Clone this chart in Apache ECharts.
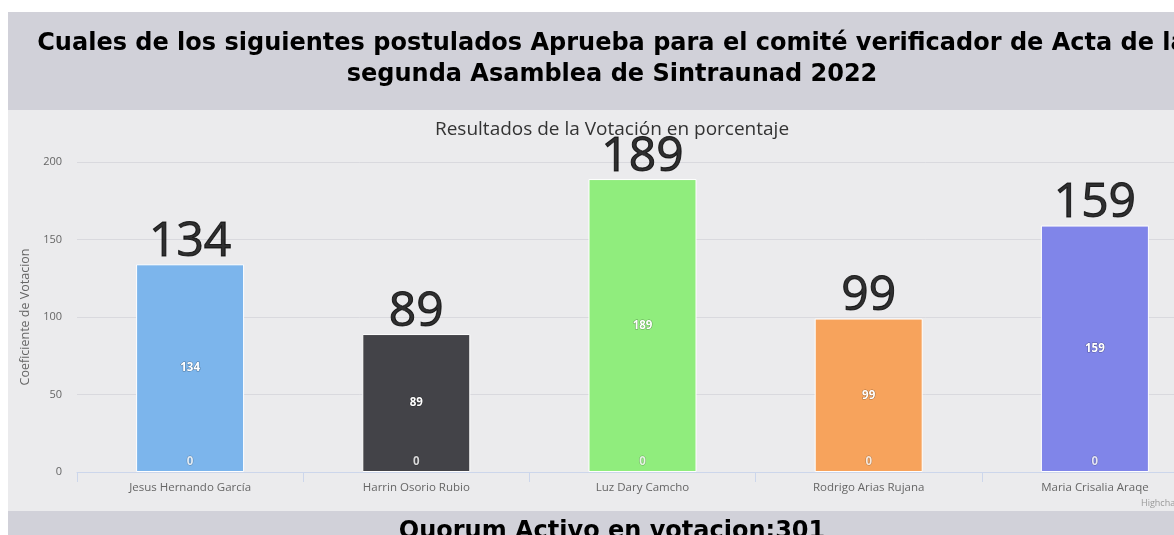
<!DOCTYPE html>
<html>
<head>
<meta charset="utf-8">
<script src="https://cdn.jsdelivr.net/npm/echarts@6/dist/echarts.min.js"></script>
<style>
    html, body { margin: 0; padding: 0; background: #fff; overflow: hidden; width: 1174px; height: 535px; }
    #chart { position: absolute; left: 8px; top: 12px; width: 1208px; height: 523px; }
</style>
</head>
<body>
<div id="chart"></div>
<script>
// Votacion comite verificador
var candidatos = ['Jesus Hernando García', 'Harrin Osorio Rubio', 'Luz Dary Camcho', 'Rodrigo Arias Rujana', 'Maria Crisalia Araqe'];
var votos = [134, 89, 189, 99, 159];
var ceros = [0, 0, 0, 0, 0];
var quorum = 301;

var colores = ['#7cb5ec', '#434348', '#90ed7d', '#f7a35c', '#8085e9'];

var chart = echarts.init(document.getElementById('chart'));
chart.setOption({
    animation: false,
    textStyle: { fontFamily: 'Open Sans' },
    graphic: [
        { type: 'rect', left: 0, top: 0, shape: { width: 1208, height: 98 }, style: { fill: '#d1d1d9' }, z: -10 },
        { type: 'rect', left: 0, top: 98, shape: { width: 1208, height: 401 }, style: { fill: '#ebebed' }, z: -10 },
        { type: 'rect', left: 0, top: 499, shape: { width: 1208, height: 24 }, style: { fill: '#d1d1d9' }, z: -10 },
        {
            type: 'text', left: 1133, top: 487, z: 10,
            style: { text: 'Highcharts.com', fill: '#999', font: '9px "Open Sans"' }
        }
    ],
    title: [{
        text: 'Cuales de los siguientes postulados Aprueba para el comité verificador de Acta de la\nsegunda Asamblea de Sintraunad 2022',
        left: 'center',
        top: 11,
        textStyle: { fontFamily: 'DejaVu Sans', fontWeight: 'bold', fontSize: 24, lineHeight: 31, color: '#000' }
    }, {
        text: 'Resultados de la Votación en porcentaje',
        left: 'center',
        top: 103,
        textStyle: { fontFamily: 'Open Sans', fontWeight: 'normal', fontSize: 19, color: '#333' }
    }, {
        text: 'Quorum Activo en votacion:' + quorum,
        left: 'center',
        top: 503,
        textStyle: { fontFamily: 'DejaVu Sans', fontWeight: 'bold', fontSize: 24, color: '#000' }
    }],
    grid: { left: 69, right: 8, top: 150, bottom: 63 },
    xAxis: {
        type: 'category',
        data: candidatos,
        axisLine: { lineStyle: { color: '#ccd6eb' } },
        axisTick: { show: true, length: 10, lineStyle: { color: '#ccd6eb' } },
        axisLabel: { color: '#666', fontSize: 11.5, margin: 10 }
    },
    yAxis: {
        type: 'value',
        min: 0,
        max: 200,
        interval: 50,
        name: 'Coeficiente de Votacion',
        nameLocation: 'middle',
        nameRotate: 90,
        nameGap: 44,
        nameTextStyle: { color: '#666', fontSize: 12.5 },
        axisLabel: { color: '#666', fontSize: 11, margin: 15 },
        axisLine: { show: false },
        splitLine: { lineStyle: { color: '#d9d9de' } }
    },
    series: [{
        name: 'Votos',
        type: 'bar',
        data: votos,
        barWidth: 108,
        itemStyle: {
            color: function (p) { return colores[p.dataIndex]; },
            borderColor: '#fff',
            borderWidth: 1
        },
        label: {
            show: true,
            position: 'inside',
            color: '#fff',
            fontWeight: 'bold',
            fontSize: 11.5,
            textBorderColor: 'rgba(0,0,0,0.35)',
            textBorderWidth: 1
        }
    }, {
        name: 'Total',
        type: 'scatter',
        data: votos,
        symbolSize: 0,
        silent: true,
        label: {
            show: true,
            position: 'top',
            distance: -2,
            color: '#000',
            fontSize: 48,
            fontWeight: 'normal',
            lineHeight: 48,
            textBorderColor: '#000',
            textBorderWidth: 1,
            fontFamily: 'Open Sans'
        }
    }, {
        name: 'Cero',
        type: 'scatter',
        data: ceros,
        symbolSize: 0,
        silent: true,
        label: {
            show: true,
            position: 'top',
            distance: 4,
            color: '#fff',
            fontWeight: 'bold',
            fontSize: 11.5,
            textBorderColor: 'rgba(0,0,0,0.35)',
            textBorderWidth: 1
        }
    }]
});
</script>
</body>
</html>
